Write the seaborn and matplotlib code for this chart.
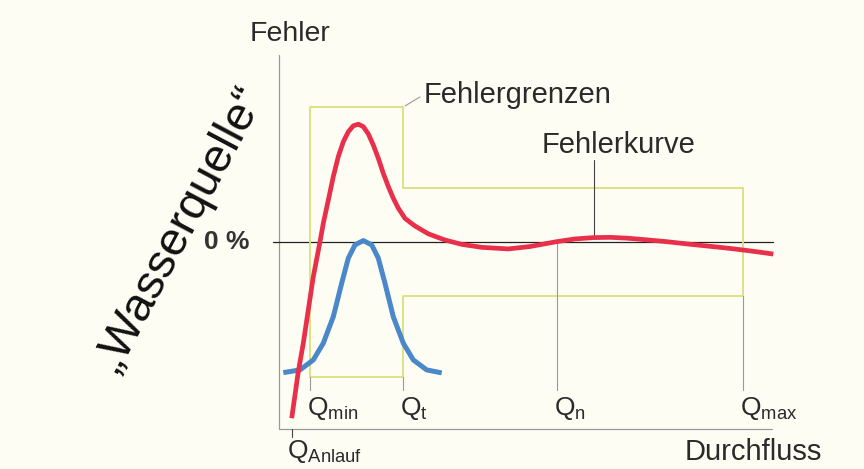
import numpy as np
import pandas as pd
import matplotlib.pyplot as plt
import seaborn as sns

# flow marks (arbitrary units, Qmax = 100) and error limits in %
q_anlauf = 2.7
q_min = 6.7
q_t = 26.7
q_n = 59.9
q_max = 100.0
limit_low_range = 5.0    # +/- between Qmin and Qt
limit_high_range = 2.0   # +/- between Qt and Qmax

# red error curve (Fehlerkurve)
red_x = [2.74, 4.16, 5.24, 6.31, 7.39, 8.84, 9.55, 10.63, 11.70, 12.78,
         13.86, 14.94, 16.01, 17.09, 18.17, 19.25, 20.32, 21.40, 22.48, 23.56,
         24.63, 25.71, 27.16, 29.31, 32.18, 35.78, 39.38, 43.69, 49.42, 54.09,
         59.85, 63.79, 67.74, 71.34, 74.94, 79.09, 83.56, 87.72, 92.18, 96.12,
         100.06, 103.23, 106.53]
red_y = [-6.54, -4.81, -3.76, -2.53, -1.30, 0.00, 0.68, 1.54, 2.41, 3.15,
         3.70, 4.07, 4.29, 4.35, 4.26, 3.99, 3.58, 3.09, 2.53, 2.04,
         1.61, 1.24, 0.86, 0.58, 0.29, 0.06, -0.10, -0.21, -0.27, -0.18,
         0.00, 0.10, 0.15, 0.16, 0.13, 0.07, 0.00, -0.08, -0.16, -0.23,
         -0.31, -0.38, -0.46]

# blue bell curve
blue_x = [0.93, 4.53, 7.39, 9.55, 11.70, 13.51, 14.94, 16.38, 18.17, 19.98,
          21.40, 22.84, 24.63, 26.79, 28.94, 31.83, 35.06]
blue_y = [-4.85, -4.75, -4.38, -3.76, -2.78, -1.54, -0.61, -0.12, 0.04, -0.12,
          -0.61, -1.54, -2.78, -3.76, -4.38, -4.75, -4.86]

q_labels = ["$\\mathregular{Q_{min}}$", "$\\mathregular{Q_{t}}$",
            "$\\mathregular{Q_{n}}$", "$\\mathregular{Q_{max}}$"]

red_df = pd.DataFrame({"Durchfluss": red_x, "Fehler": red_y})
blue_df = pd.DataFrame({"Durchfluss": blue_x, "Fehler": blue_y})

sns.set_style("white")
plt.rcParams["font.family"] = ["Liberation Sans", "DejaVu Sans"]

bg = "#fdfdf4"
fig = plt.figure(figsize=(8.64, 4.69), dpi=100, facecolor=bg)
ax = fig.add_axes([0, 0, 1, 1], facecolor=bg)

gray = "#9a9a9a"
# axes
ax.plot([0, 0], [6.91, -6.94], color=gray, lw=0.9)
ax.plot([0, 106.3], [-6.94, -6.94], color=gray, lw=0.9)
ax.plot([-1.2, 106.5], [0, 0], color="#222222", lw=0.9)

# error limit outline
band_x = [q_min, q_min, q_t, q_t, q_max, q_max, q_t, q_t, q_min]
band_y = [-limit_low_range, limit_low_range, limit_low_range, limit_high_range,
          limit_high_range, -limit_high_range, -limit_high_range,
          -limit_low_range, -limit_low_range]
ax.plot(band_x, band_y, color="#d9e07c", lw=1.3)

# leader lines down to the Q labels
ax.plot([q_min, q_min], [-limit_low_range, -5.49], color=gray, lw=0.8)
ax.plot([q_t, q_t], [-limit_low_range, -5.49], color=gray, lw=0.8)
ax.plot([q_n, q_n], [0, -5.49], color=gray, lw=0.8)
ax.plot([q_max, q_max], [-limit_high_range, -5.49], color=gray, lw=0.8)
ax.plot([q_anlauf, q_anlauf], [-6.94, -7.23], color="#444444", lw=0.8)
ax.plot([67.9, 67.9], [3.03, 0.15], color="#444444", lw=0.8)
ax.plot([27.2, 30.4], [5.03, 5.36], color=gray, lw=0.8)

sns.lineplot(data=blue_df, x="Durchfluss", y="Fehler", sort=False,
             estimator=None, color="#4a88c9", lw=3.6, ax=ax,
             solid_joinstyle="round", solid_capstyle="butt")
sns.lineplot(data=red_df, x="Durchfluss", y="Fehler", sort=False,
             estimator=None, color="#e8304a", lw=3.4, ax=ax,
             solid_joinstyle="round", solid_capstyle="butt")
ax.set_xlim(-60.13, 126.08)
ax.set_ylim(-8.42, 8.95)
ax.axis("off")

txt = "#2a2a2a"
ax.text(-6.25, 7.7, "Fehler", fontsize=20.5, color=txt, va="center")
ax.text(-6.25, 0, "0 %", fontsize=19, color="#333333", va="center",
        ha="right", fontweight="bold")
ax.text(31.2, 5.43, "Fehlergrenzen", fontsize=21, color=txt, va="center")
ax.text(56.7, 3.58, "Fehlerkurve", fontsize=21, color=txt, va="center")
for qx, lab in zip([6.03, 26.1, 59.3, 99.4], q_labels):
    ax.text(qx, -6.17, lab, fontsize=19, color=txt, va="center")
ax.text(1.7, -7.79, "$\\mathregular{Q_{Anlauf}}$", fontsize=19, color=txt,
        va="center")
ax.text(87.5, -7.79, "Durchfluss", fontsize=21, color=txt, va="center")
ax.text(-21.3, 0.45, "\u201eWasserquelle\u201c", fontsize=34, color="#111111",
        rotation=62, ha="center", va="center", rotation_mode="anchor")

fig.savefig("out.png", dpi=100, facecolor=bg)
